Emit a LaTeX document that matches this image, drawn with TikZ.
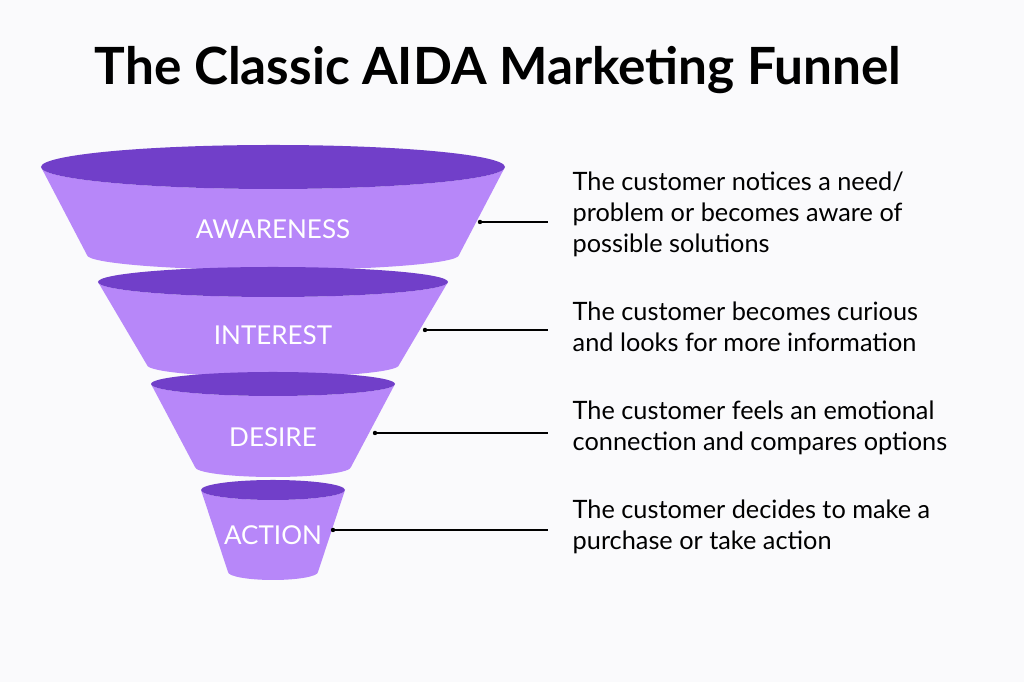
\documentclass[tikz,border=0pt]{standalone}
\usepackage{fontspec}
\setmainfont{Lato}
\definecolor{bgcol}{HTML}{FAFAFC}
\definecolor{rimcol}{HTML}{713FC9}
\definecolor{bodycol}{HTML}{B787F9}
\begin{document}
\begin{tikzpicture}[
		y=-1cm,
		stage/.style={text=white, font=\fontsize{7.4}{8}\selectfont},
		desc/.style={anchor=north west, align=left, inner sep=0pt, font=\fontsize{7.2}{8.9}\selectfont},
		]
		%background
		\fill[bgcol] (0,0) rectangle (10.24,6.82);
		\useasboundingbox (0,0) rectangle (10.24,6.82);
		
		%title
		\node (title) at (4.98,0.70) {\fontsize{14.6}{16}\selectfont\bfseries The Classic AIDA Marketing Funnel};
		
		%funnel: top y / top rx / top ry / bottom y / bottom rx / bottom ry / label y / name / text
		\foreach \ty/\ta/\tr/\by/\br/\bs/\ly/\nm/\txt in {
			1.67/2.32/0.22/2.55/1.86/0.15/2.29/aw/AWARENESS,
			2.82/1.75/0.15/3.65/1.26/0.12/3.35/in/INTEREST,
			3.84/1.22/0.12/4.67/0.78/0.10/4.37/de/DESIRE,
			4.90/0.72/0.10/5.72/0.45/0.08/5.35/ac/ACTION}{
			\fill[bodycol] (2.73-\ta,\ty) -- (2.73-\br,\by) arc[start angle=180, end angle=0, x radius=\br, y radius=\bs]
				-- (2.73+\ta,\ty) arc[start angle=0, end angle=180, x radius=\ta, y radius=\tr] -- cycle;
			\fill[rimcol] (2.73,\ty) ellipse[x radius=\ta, y radius=\tr];
			\node[stage] (\nm) at (2.73,\ly) {\txt};
		}
		
		%connectors
		\coordinate (dotaw) at (4.80,2.22);
		\coordinate (dotin) at (4.25,3.30);
		\coordinate (dotde) at (3.75,4.33);
		\coordinate (dotac) at (3.33,5.30);
		\foreach \d in {dotaw,dotin,dotde,dotac}{
			\fill (\d) circle (0.022);
			\draw[line width=0.35pt] (\d) -- (5.48,0 |- \d);
		}
		
		%descriptions
		\node[desc] (txtaw) at (5.72,1.71) {The customer notices a need/\\problem or becomes aware of\\possible solutions};
		\node[desc] (txtin) at (5.72,3.01) {The customer becomes curious\\and looks for more information};
		\node[desc] (txtde) at (5.72,4.00) {The customer feels an emotional\\connection and compares options};
		\node[desc] (txtac) at (5.72,4.99) {The customer decides to make a\\purchase or take action};
	\end{tikzpicture}
\end{document}
